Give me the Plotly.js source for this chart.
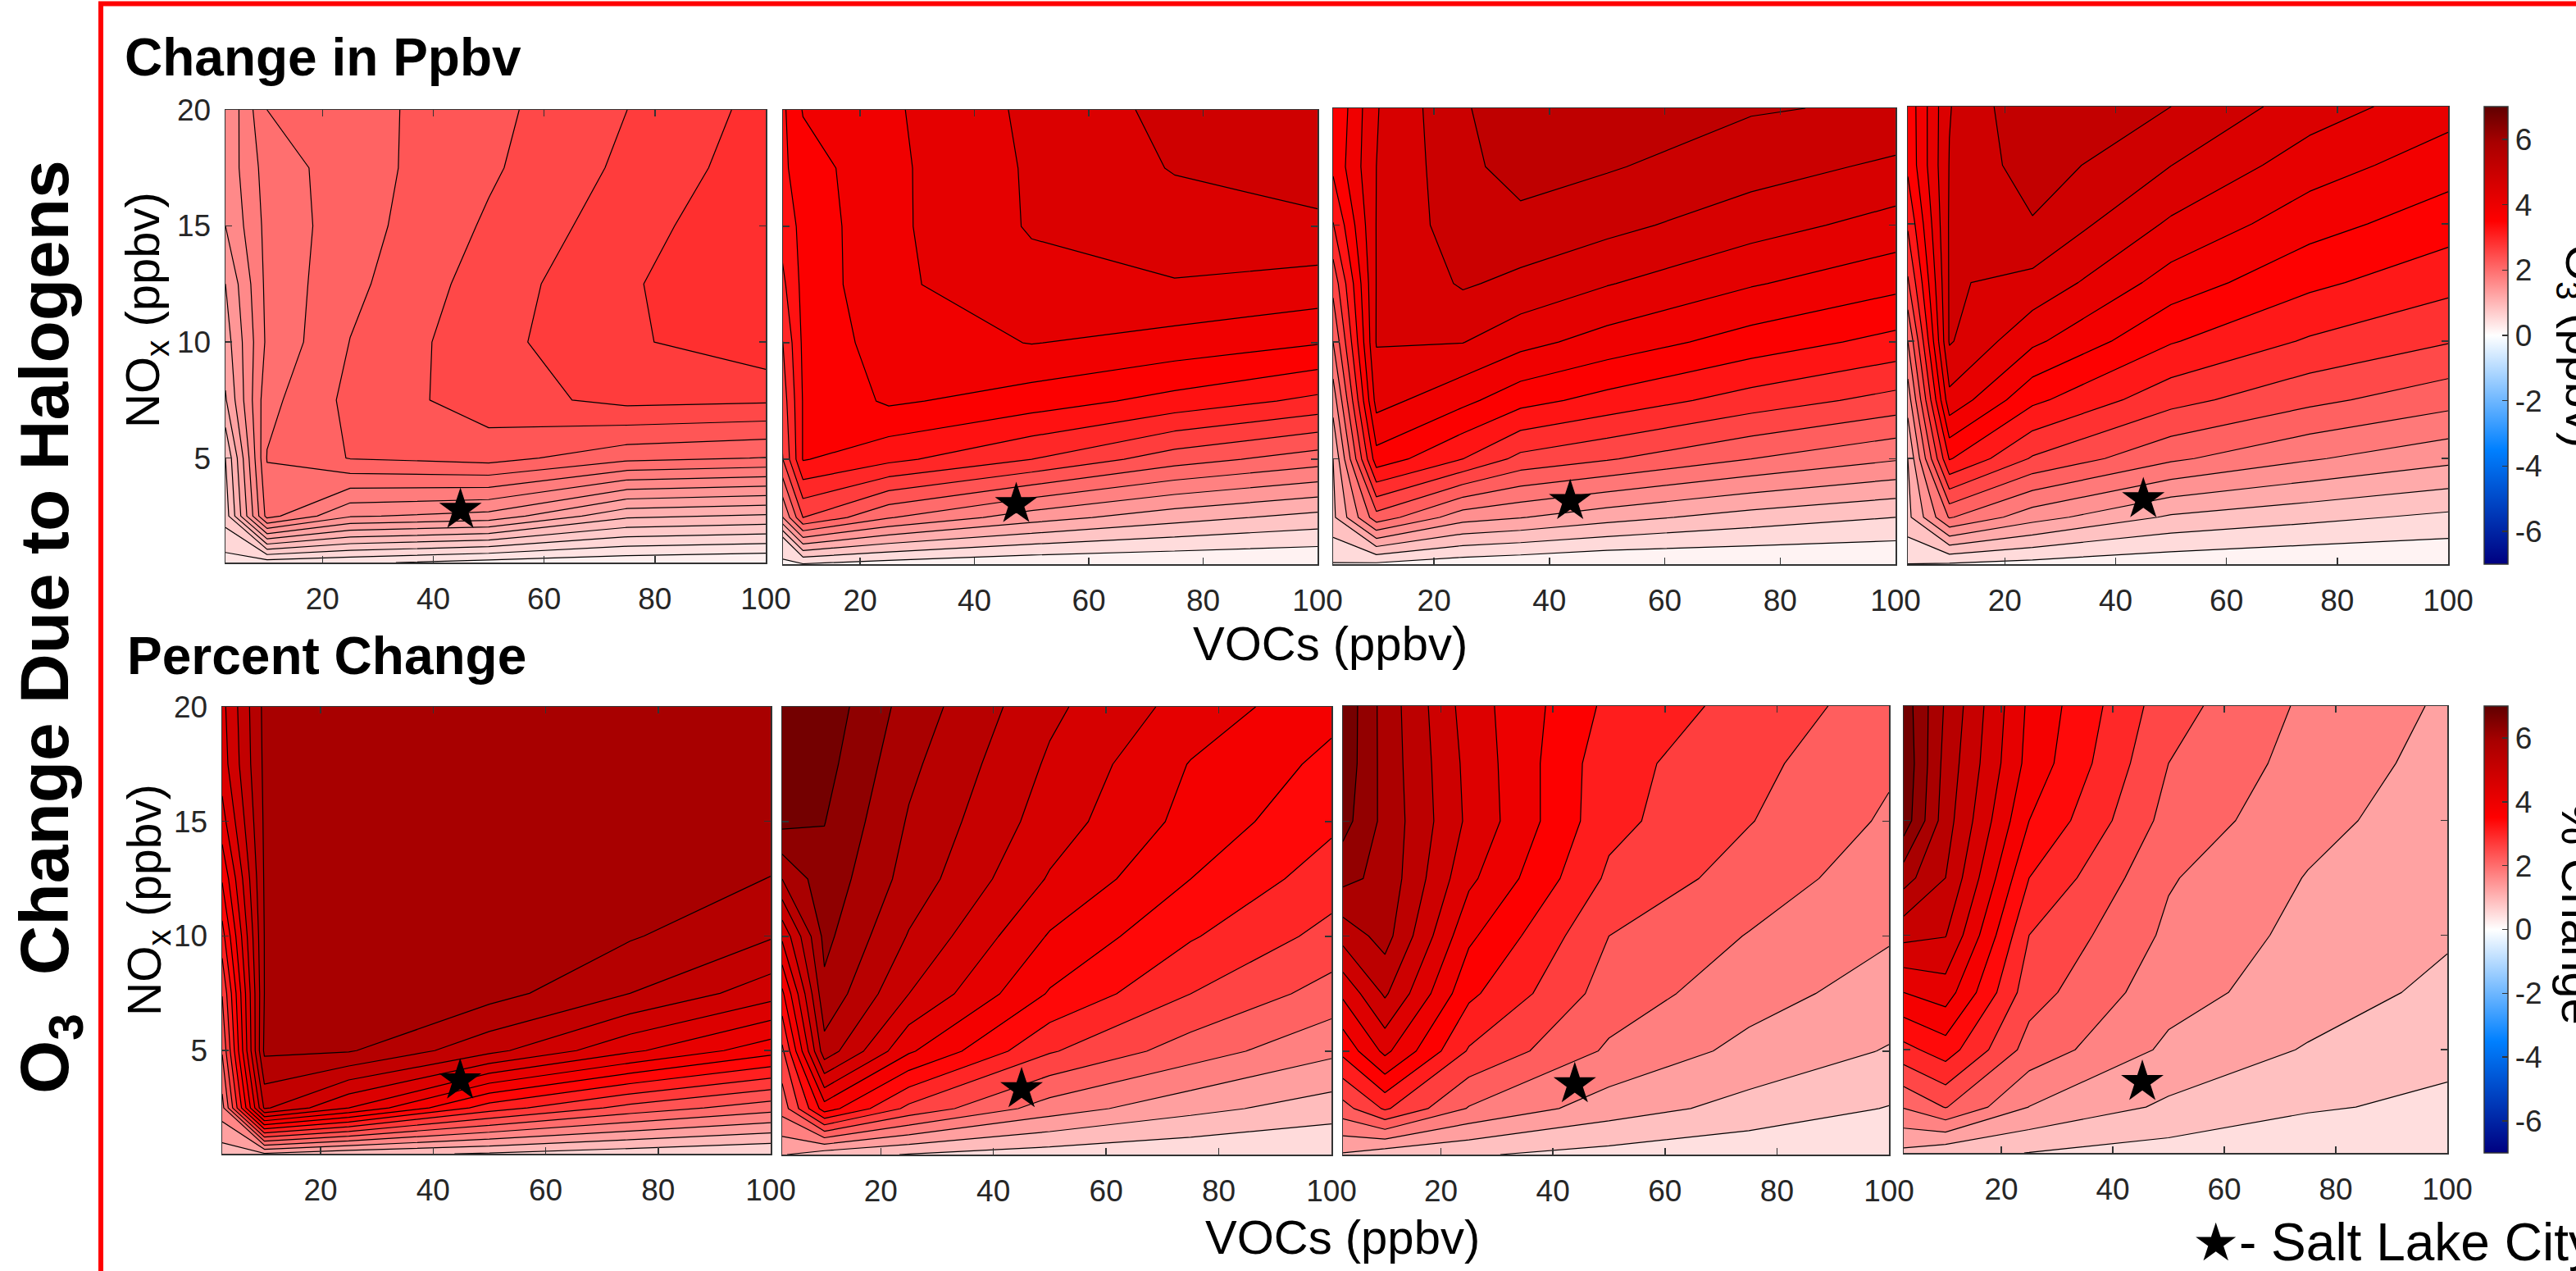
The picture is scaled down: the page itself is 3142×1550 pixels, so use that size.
<!DOCTYPE html>
<html><head><meta charset="utf-8"><script src="https://cdn.plot.ly/plotly-3.0.1.min.js"></script>
<style>html,body{margin:0;padding:0;background:#fff;overflow:hidden}#c{width:3142px;height:1550px}</style></head>
<body><div id="c"></div>
<script>
const vocs=[2.5,10,25,50,75,100];
const vocsFine=[2.5,10,25,35,50,75,100];
const nox=[0.5,2.5,5,7.5,10,12.5,15,17.5,20];
const xTicks=[20,40,60,80,100];
const yTicks=[5,10,15,20];
const cbTicks=[-6,-4,-2,0,2,4,6];
const cbLabels=['-6','-4','-2','0','2','4','6'];
const ppbv1=[[.396,.373,.325,.219,.161,.12],[.724,1.947,1.547,1.467,1.033,.971],[.821,2.069,2.246,2.308,2.113,2.053],[1.157,2.007,2.283,2.511,2.644,2.619],[1.264,1.918,2.241,2.534,2.736,2.901],[1.352,1.933,2.191,2.497,2.745,2.938],[1.529,1.936,2.161,2.439,2.688,2.922],[1.582,1.961,2.157,2.387,2.630,2.865],[1.536,2.06,2.166,2.364,2.591,2.826]];
const ppbv2=[[.28,.31,.19,.07,.04,.02],[.51,2.5,1.90,1.40,1.07,.84],[1.42,3.45,3.20,2.81,2.33,2.03],[1.75,3.45,3.79,3.59,3.32,3.04],[2.04,3.49,3.90,4.06,3.93,3.76],[2.53,3.52,3.99,4.25,4.34,4.25],[2.84,3.54,3.98,4.39,4.52,4.58],[3.12,3.59,3.98,4.40,4.69,4.88],[2.93,3.76,4.0,4.43,4.76,5.10]];
const ppbv3=[[.32,.28,.14,.085,0,0,0],[.95,2.24,1.50,1.377,1.15,.87,.68],[1.02,3.60,3.06,2.62,2.41,2.04,1.73],[1.50,4.21,3.83,3.52,3.28,2.91,2.60],[2.04,4.44,4.43,4.19,3.94,3.59,3.29],[2.49,4.43,4.80,4.67,4.44,4.11,3.84],[3.04,4.43,4.96,5.0,4.86,4.56,4.29],[3.47,4.42,5.01,5.24,5.13,4.91,4.69],[3.40,4.40,5.07,5.27,5.24,5.13,5.05]];
const ppbv4=[[.33,.30,.22,.11,.04,.02],[.91,2.03,1.47,.95,.76,.59],[1.0,3.36,2.63,2.06,1.70,1.43],[1.48,4.23,3.41,2.78,2.42,2.13],[2.0,4.70,4.07,3.36,2.96,2.69],[2.62,4.70,4.57,3.85,3.41,3.11],[3.05,4.70,4.97,4.28,3.80,3.48],[3.40,4.68,5.18,4.67,4.16,3.82],[3.43,4.65,5.30,5.0,4.5,4.14]];
const pct1=[[.946,1.095,.883,.742,.565,.424],[1.712,5.066,4.307,3.072,2.418,1.984],[2.224,5.79,5.754,5.119,4.378,3.742],[2.56,5.72,6.072,5.86,5.366,4.815],[3.107,5.726,6.143,6.072,5.754,5.4],[3.636,5.754,6.178,6.143,6.0,5.708],[4.166,5.772,6.178,6.178,6.072,5.966],[4.484,5.79,6.178,6.178,6.143,6.072],[4.554,5.807,6.178,6.178,6.178,6.178]];
const pct2=[[1.152,.871,.685,.5,.376,.293],[2.11,3.804,2.655,1.739,1.247,.913],[2.676,5.497,4.068,2.812,2.152,1.623],[3.502,5.972,4.836,3.556,2.771,2.193],[4.506,6.191,5.216,3.969,3.225,2.635],[5.662,6.343,5.497,4.382,3.597,2.978],[6.612,6.5,5.621,4.63,3.874,3.267],[6.86,6.633,5.757,4.774,3.989,3.494],[6.9,6.736,5.902,4.927,4.258,3.721]];
const pct3=[[1.047,.824,.691,.49,.334,.2],[2.252,2.938,1.948,1.311,.936,.624],[3.442,4.326,2.827,1.913,1.409,1.061],[4.299,5.173,3.42,2.229,1.721,1.337],[5.271,5.73,3.857,2.43,1.962,1.583],[6.123,5.864,4.312,2.791,2.229,1.739],[6.622,5.864,4.562,3.005,2.452,1.917],[6.756,5.833,4.522,3.041,2.559,2.051],[6.779,5.82,4.437,3.215,2.72,2.207]];
const pct4=[[.970,.782,.649,.49,.344,.24],[1.933,2.346,1.483,.995,.703,.569],[3.026,3.368,2.154,1.408,1.041,.77],[3.993,4.202,2.5,1.645,1.287,.97],[4.952,4.848,2.742,1.825,1.366,1.124],[5.828,5.244,3.159,1.946,1.47,1.178],[6.745,5.432,3.576,2.175,1.62,1.262],[6.829,5.515,3.847,2.325,1.741,1.345],[6.745,5.607,3.91,2.492,1.825,1.428]];
const starX=[44.9,47.3,43.6,45,44.8,45,43.9,45.3];
const starY=[2.77,3.08,3.2,3.27,3.7,3.35,3.56,3.6];
const levelStart=[.29,.33,.34,.3333,.777,.706,.646,.657];
const levelEnd=[2.768,4.67,5.1,5.0,5.719,6.488,6.444,6.495];
const levelSize=[.177,.31,.34,.3333,.353,.413,.446,.417];
const xMin=[2.5,6.5,2.5,2.5,2.5,2.5,2.5,2.5];
const panelBoxes=[[275,934,134,686],[955,1607,134,688],[1626,2312,132,688],[2327,2986,130,688],[271,940,862,1407],[954,1624,862,1408],[1638,2304,861,1408],[2322,2985,861,1406]];
const panelData=[ppbv1,ppbv2,ppbv3,ppbv4,pct1,pct2,pct3,pct4];
const panelX=[vocs,vocs,vocsFine,vocs,vocs,vocs,vocs,vocs];
const cmapStops=[[-7,[0,0,128]],[-3.5,[0,128,255]],[0,[255,255,255]],[3.5,[255,0,0]],[5.9,[168,0,0]],[7,[96,0,0]]];
function cmap(v){v=Math.max(-7,Math.min(7,v));
  for(let i=0;i<cmapStops.length-1;i++){const a=cmapStops[i],b=cmapStops[i+1];
    if(v<=b[0]){const t=(v-a[0])/(b[0]-a[0]);
      return 'rgb('+a[1].map((c,j)=>Math.round(c+(b[1][j]-c)*t)).join(',')+')';}}
  return 'rgb(96,0,0)';}
const absScale=cmapStops.map(s=>[(s[0]+7)/14,'rgb('+s[1].join(',')+')']);
function bandScale(lo,hi){const out=[];const N=80;for(let i=0;i<=N;i++){out.push([i/N,cmap(lo+(hi-lo)*i/N)]);}return out;}
const W=3142,H=1550;
const FONT='"Liberation Sans", Arial, Helvetica, sans-serif';
const traces=[];const layout={width:W,height:H,margin:{l:0,r:0,t:0,b:0,pad:0},paper_bgcolor:'#fff',plot_bgcolor:'#fff',showlegend:false,font:{family:FONT,color:'#262626'},annotations:[],
 shapes:[{type:'path',xref:'paper',yref:'paper',path:'M '+(123/W)+' -0.01 L '+(123/W)+' '+(1-4.5/H)+' L 1.01 '+(1-4.5/H),line:{color:'#ff0000',width:6},layer:'above'}]};
panelData.forEach((z,i)=>{const n=i+1;const b=panelBoxes[i];const xa='x'+(n===1?'':n),ya='y'+(n===1?'':n);
 const s=levelStart[i],e=levelEnd[i],d=levelSize[i];
 traces.push({type:'contour',x:panelX[i],y:nox,z:z,xaxis:xa,yaxis:ya,autocontour:false,showscale:false,hoverinfo:'skip',
  contours:{start:s,end:e,size:d,coloring:'fill',showlines:true},line:{color:'#000',width:1.2,smoothing:0},
  colorscale:bandScale(s-d/2,e+d/2)});
 traces.push({type:'scatter',mode:'markers',x:[starX[i]],y:[starY[i]],xaxis:xa,yaxis:ya,hoverinfo:'skip',cliponaxis:false,marker:{symbol:'star',size:39,color:'#000',line:{width:0}}});
 const axBase={showline:true,linecolor:'#333',linewidth:1.5,mirror:'ticks',ticks:'inside',ticklen:8,tickwidth:1.5,tickcolor:'#333',showgrid:false,zeroline:false,tickfont:{size:37,family:FONT,color:'#262626'},layer:'above traces'};
 layout['xaxis'+(n===1?'':n)]=Object.assign({},axBase,{anchor:ya,domain:[b[0]/W,b[1]/W],range:[xMin[i],100],tickmode:'array',tickvals:xTicks,ticktext:xTicks.map(String),ticklabelstandoff:11});
 const yShow=(i===0||i===4);
 layout['yaxis'+(n===1?'':n)]=Object.assign({},axBase,{anchor:xa,domain:[1-b[3]/H,1-b[2]/H],range:[0.5,20],tickmode:'array',tickvals:yTicks,ticktext:yTicks.map(String),showticklabels:yShow,ticklabelstandoff:9});
});
function bar(y0,y1,xa,ya){return {type:'scatter',mode:'markers',x:[50],y:[-100],xaxis:xa,yaxis:ya,hoverinfo:'skip',
 marker:{color:[0],cmin:-7,cmax:7,colorscale:absScale,showscale:true,size:1,opacity:0,
  colorbar:{x:3030/W,xanchor:'left',thickness:29,thicknessmode:'pixels',len:(y1-y0)/H,lenmode:'fraction',y:1-y1/H,yanchor:'bottom',xpad:0,ypad:0,
   tickmode:'array',tickvals:cbTicks,ticktext:cbLabels,ticks:'inside',ticklen:7,tickwidth:1.5,tickcolor:'#333',tickfont:{size:37,family:FONT,color:'#262626'},outlinecolor:'#333',outlinewidth:1.5,borderwidth:0,ticklabelposition:'outside'}}};}
traces.push(bar(130,688,'x4','y4'));traces.push(bar(861,1406,'x8','y8'));
function note(text,x,y,size,opt){layout.annotations.push(Object.assign({text:text,xref:'paper',yref:'paper',x:x/W,y:1-y/H,xanchor:'center',yanchor:'middle',showarrow:false,font:{size:size,family:FONT,color:'#000'}},opt||{}));}
note('<b>O<sub>3</sub>  Change Due to Halogens</b>',60,765,84,{textangle:-90});
note('<b>Change in Ppbv</b>',150,70,64,{xanchor:'left'});
note('<b>Percent Change</b>',153,800,64,{xanchor:'left'});
note('NO<sub>x</sub> (ppbv)',178,378,58,{textangle:-90});
note('NO<sub>x</sub> (ppbv)',180,1098,57,{textangle:-90});
note('VOCs (ppbv)',1622,784,58);
note('VOCs (ppbv)',1637,1508,58);
note('O<sub>3</sub> (ppbv)',3146,422,58,{textangle:90});
note('% Change',3146,1114,58,{textangle:90});
note('★- Salt Lake City',2672,1515,64,{xanchor:'left'});
Plotly.newPlot('c',traces,layout,{staticPlot:true,displayModeBar:false});
</script></body></html>
